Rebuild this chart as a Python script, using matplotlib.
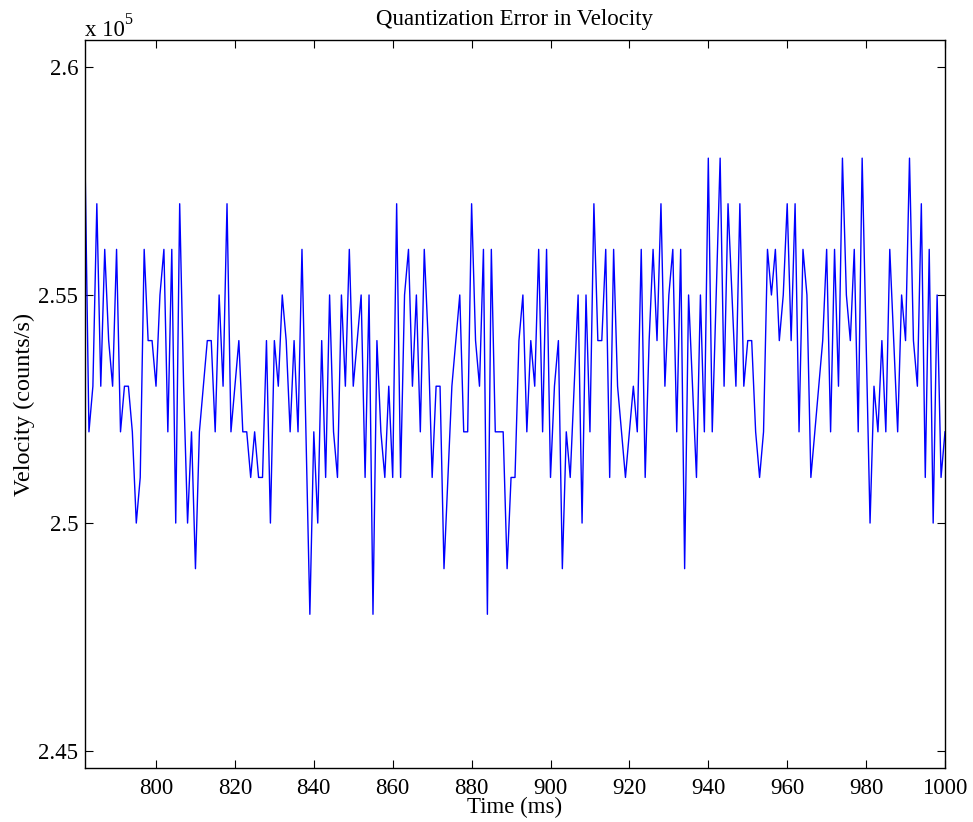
import matplotlib
matplotlib.use('Agg')
import matplotlib.pyplot as plt
import numpy as np
from matplotlib.ticker import FuncFormatter

# sample time in ms
t_start = 782
t_end = 1000

# velocity in thousands of counts/s, one sample per ms
vel_k = [258, 252, 253, 257, 253, 256, 254, 253, 256, 252,
         253, 253, 252, 250, 251, 256, 254, 254, 253, 255,
         256, 252, 256, 250, 257, 253, 250, 252, 249, 252,
         253, 254, 254, 252, 255, 253, 257, 252, 253, 254,
         252, 252, 251, 252, 251, 251, 254, 250, 254, 253,
         255, 254, 252, 254, 252, 256, 252, 248, 252, 250,
         254, 251, 255, 252, 251, 255, 253, 256, 253, 254,
         255, 251, 255, 248, 254, 252, 251, 253, 251, 257,
         251, 255, 256, 253, 255, 252, 256, 254, 251, 253,
         253, 249, 251, 253, 254, 255, 252, 252, 257, 254,
         253, 256, 248, 256, 252, 252, 252, 249, 251, 251,
         254, 255, 252, 254, 253, 256, 252, 256, 251, 253,
         254, 249, 252, 251, 253, 255, 250, 255, 252, 257,
         254, 254, 256, 251, 256, 253, 252, 251, 252, 253,
         252, 256, 251, 254, 256, 254, 257, 253, 255, 256,
         252, 256, 249, 255, 253, 251, 255, 252, 258, 252,
         255, 258, 253, 257, 255, 253, 257, 253, 254, 254,
         252, 251, 252, 256, 255, 256, 254, 255, 257, 254,
         257, 252, 256, 255, 251, 252, 253, 254, 256, 252,
         256, 253, 258, 255, 254, 256, 252, 258, 254, 250,
         253, 252, 254, 252, 256, 254, 252, 255, 254, 258,
         254, 253, 257, 251, 256, 250, 255, 251, 252]

x_ticks = [800, 820, 840, 860, 880, 900, 920, 940, 960, 980, 1000]
y_ticks = [2.45e5, 2.5e5, 2.55e5, 2.6e5]

t = np.arange(t_start, t_end + 1)
v = np.array(vel_k) * 1000.0

plt.rcParams['font.family'] = ['Liberation Serif', 'DejaVu Serif']
plt.rcParams['font.size'] = 16.5

fig = plt.figure(figsize=(9.73, 8.22), dpi=100)
ax = fig.add_axes([85/973, 54/822, 860/973, 728/822])

ax.plot(t, v, color='#0000ff', lw=1.0)

ax.set_xlim(t_start, t_end)
ax.set_ylim(2.4463e5, 2.6059e5)
ax.set_xticks(x_ticks)
ax.set_yticks(y_ticks)
ax.yaxis.set_major_formatter(FuncFormatter(lambda y, p: '%g' % round(y / 1e5, 3)))

ax.tick_params(direction='in', length=6, width=0.8, top=True, right=True)
ax.tick_params(axis='x', pad=7)
ax.tick_params(axis='y', pad=5)
for s in ax.spines.values():
    s.set_linewidth(1.0)

ax.set_title('Quantization Error in Velocity', fontsize=16.5, pad=11)
ax.set_xlabel('Time (ms)', labelpad=-1)
ax.set_ylabel('Velocity (counts/s)', fontsize=17.5, labelpad=2.5)
fig.text(85/973, 1 - 36/822, 'x 10', ha='left', va='baseline', fontsize=16.5)
fig.text(124/973, 1 - 24/822, '5', ha='left', va='baseline', fontsize=11.5)

fig.savefig('out.png', dpi=100)
